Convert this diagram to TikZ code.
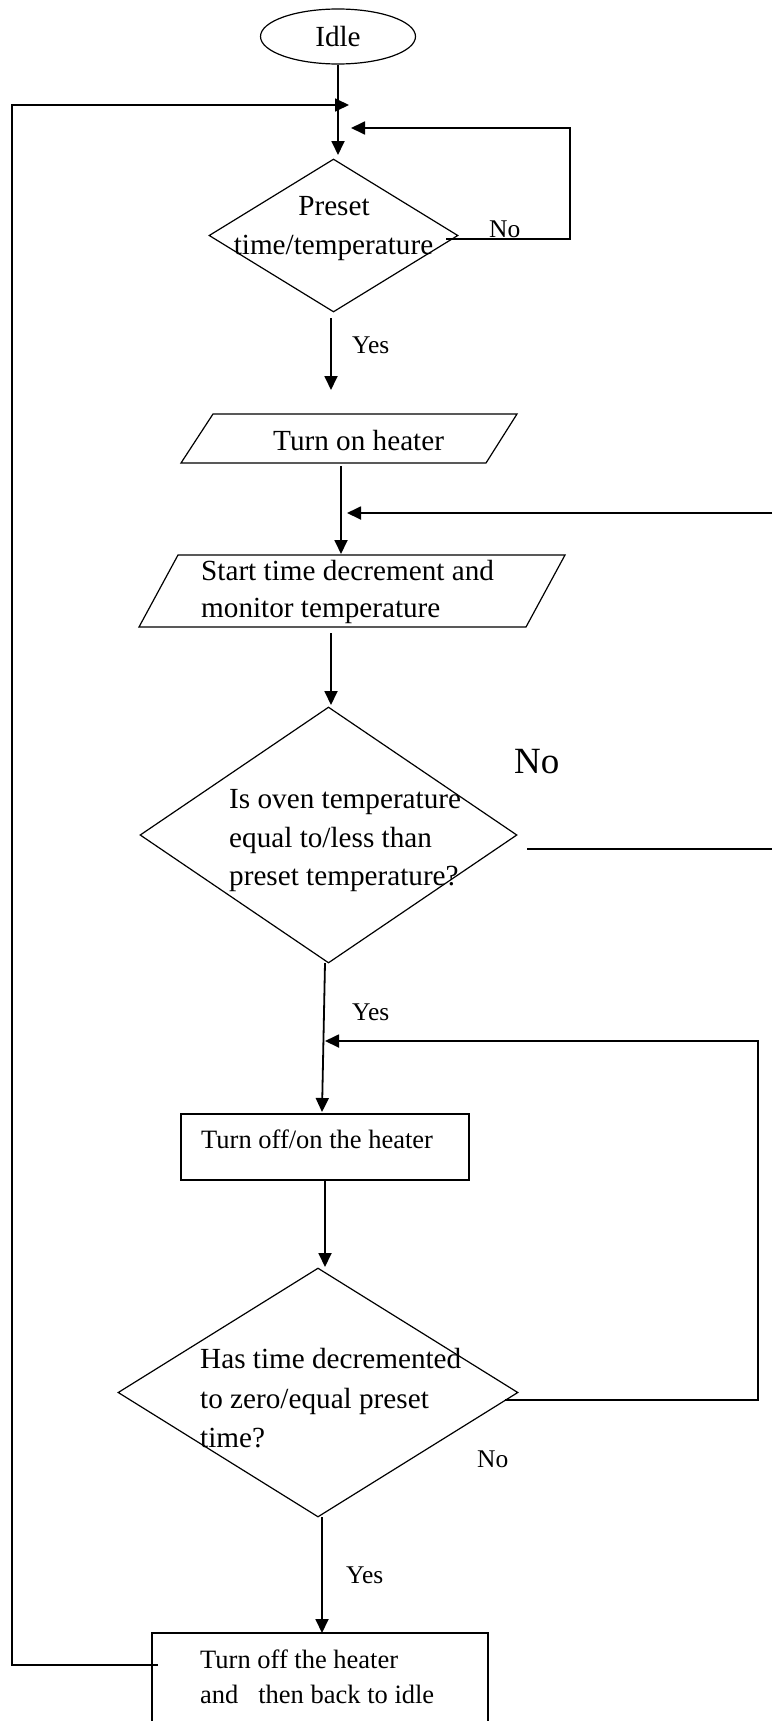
\documentclass[tikz,border=0pt]{standalone}
\usepackage{fontspec}
\setmainfont{Liberation Serif}
\usetikzlibrary{arrows.meta,shapes.geometric}
\begin{document}
\begin{tikzpicture}[x=1pt,y=-1pt,
  outline/.style={draw,line width=1.2pt,inner sep=0pt},
  conn/.style={line width=1.8pt},
  arr/.style={conn,-{Triangle[length=14pt,width=13pt]}},
  maintxt/.style={inner sep=0pt,anchor=base west,font=\fontsize{29.2}{35}\selectfont},
  boxtxt/.style={inner sep=0pt,anchor=base west,font=\fontsize{26.5}{32}\selectfont},
  lbl/.style={inner sep=0pt,anchor=base west,font=\fontsize{25.5}{30}\selectfont},
  biglbl/.style={inner sep=0pt,anchor=base west,font=\fontsize{37}{44}\selectfont}]
\useasboundingbox (0,0) rectangle (772,1721);
\clip (0,0) rectangle (772,1721);

% ---------- shapes ----------
\node[outline,ellipse,minimum width=155pt,minimum height=55pt,font=\fontsize{29.2}{35}\selectfont] (idle) at (338,36.5) {Idle};

\node[outline,diamond,minimum width=249pt,minimum height=153pt] (d1) at (333.5,235.5) {};
\node[maintxt,anchor=base] (d1a) at (334,215) {Preset};
\node[maintxt,anchor=base] (d1b) at (333.5,254) {time/temperature};

\coordinate (p1tl) at (213,414); \coordinate (p1tr) at (517,414);
\coordinate (p1br) at (486,463); \coordinate (p1bl) at (181,463);
\draw[line width=1.2pt] (p1tl) -- (p1tr) -- (p1br) -- (p1bl) -- cycle;
\node[maintxt] (p1t) at (273,450) {Turn on heater};

\coordinate (p2tl) at (178,555); \coordinate (p2tr) at (565,555);
\coordinate (p2br) at (526,627); \coordinate (p2bl) at (139,627);
\draw[line width=1.2pt] (p2tl) -- (p2tr) -- (p2br) -- (p2bl) -- cycle;
\node[maintxt] (p2a) at (201,580) {Start time decrement and};
\node[maintxt] (p2b) at (201,617) {monitor temperature};

\node[outline,diamond,minimum width=377pt,minimum height=256pt] (d2) at (328.5,835) {};
\node[maintxt] (d2a) at (229,808) {Is oven temperature};
\node[maintxt] (d2b) at (229,847) {equal to/less than};
\node[maintxt] (d2c) at (229,885) {preset temperature?};

\node[outline,rectangle,minimum width=288pt,minimum height=66pt] (b1) at (325,1147) {};
\node[boxtxt] (b1t) at (201,1148) {Turn off/on the heater};

\node[outline,diamond,minimum width=400pt,minimum height=249pt] (d3) at (318,1392.5) {};
\node[maintxt] (d3a) at (200,1368) {Has time decremented};
\node[maintxt] (d3b) at (200,1408) {to zero/equal preset};
\node[maintxt] (d3c) at (200,1447) {time?};

\node[outline,rectangle,minimum width=336pt,minimum height=120pt] (b2) at (320,1693) {};
\node[boxtxt] (b2a) at (200,1668) {Turn off the heater};
\node[boxtxt] (b2b) at (200,1703) {and~~~then back to idle};

% ---------- labels ----------
\node[lbl] (no1) at (489,237) {No};
\node[lbl] (yes1) at (352,353) {Yes};
\node[biglbl] (no2) at (514,773) {No};
\node[lbl] (yes2) at (352,1020) {Yes};
\node[lbl] (no3) at (477,1467) {No};
\node[lbl] (yes3) at (346,1583) {Yes};

% ---------- connector points ----------
\coordinate (a1) at (338,155);
\coordinate (lp1) at (158,1665); \coordinate (lp2) at (12,1665);
\coordinate (lp3) at (12,105);   \coordinate (lp4) at (349,105);
\coordinate (n1a) at (446,239);  \coordinate (n1b) at (570,239);
\coordinate (n1c) at (570,128);  \coordinate (n1d) at (351,128);
\coordinate (y1a) at (331,318);  \coordinate (y1b) at (331,390);
\coordinate (c2a) at (341,466);  \coordinate (c2b) at (341,554);
\coordinate (r1a) at (772,513);  \coordinate (r1b) at (347,513);
\coordinate (c3a) at (331,633);  \coordinate (c3b) at (331,705);
\coordinate (n2a) at (527,849);  \coordinate (n2b) at (772,849);
\coordinate (y2a) at (325,963);  \coordinate (y2b) at (322,1112);
\coordinate (n3a) at (505,1400); \coordinate (n3b) at (758,1400);
\coordinate (n3c) at (758,1041); \coordinate (n3d) at (325,1041);
\coordinate (c4a) at (325,1180); \coordinate (c4b) at (325,1267);
\coordinate (y3a) at (322,1517); \coordinate (y3b) at (322,1633);

% ---------- connectors ----------
\draw[arr] (idle.south) -- (a1);
\draw[arr] (lp1) -- (lp2) -- (lp3) -- (lp4);
\draw[arr] (n1a) -- (n1b) -- (n1c) -- (n1d);
\draw[arr] (y1a) -- (y1b);
\draw[arr] (c2a) -- (c2b);
\draw[arr] (r1a) -- (r1b);
\draw[arr] (c3a) -- (c3b);
\draw[conn] (n2a) -- (n2b);
\draw[arr] (y2a) -- (y2b);
\draw[arr] (n3a) -- (n3b) -- (n3c) -- (n3d);
\draw[arr] (c4a) -- (c4b);
\draw[arr] (y3a) -- (y3b);
\end{tikzpicture}
\end{document}
